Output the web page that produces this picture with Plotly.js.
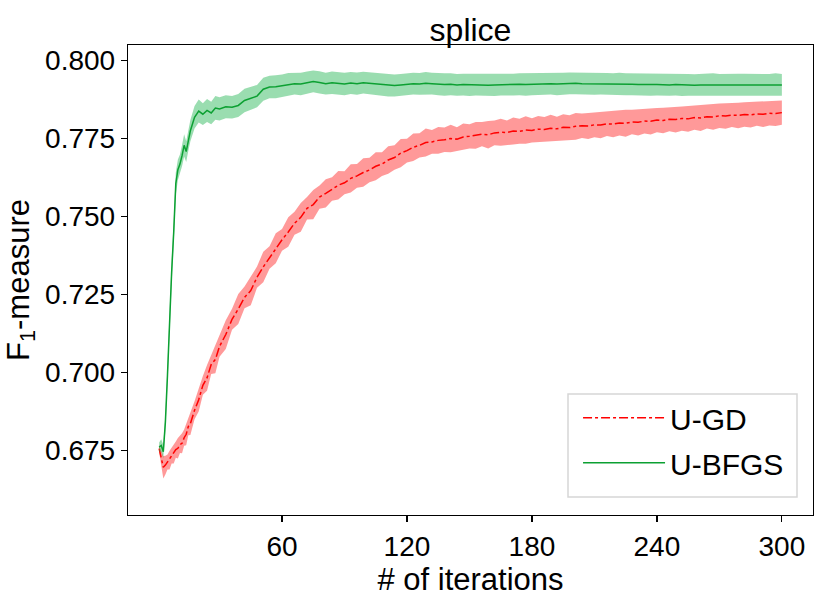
<!DOCTYPE html>
<html>
<head>
<meta charset="utf-8">
<script src="https://cdn.plot.ly/plotly-3.0.1.min.js"></script>
<style>
  html, body { margin: 0; padding: 0; background: #fff; }
  #plot { width: 831px; height: 602px; }
</style>
</head>
<body>
<div id="plot"></div>
<script>
// iterations sampled from the curves
var iterations = [1,2,3,4,5,6,7,8,9,10,11,12,13,14,15,16,
  18,20,22,24,26,28,30,
  33,36,39,42,45,48,51,54,57,60,63,66,69,72,75,78,81,84,87,90,
  93,96,99,102,105,108,111,114,117,120,123,126,129,132,135,138,141,144,147,150,
  153,156,159,162,165,168,171,174,177,180,183,186,189,192,195,198,201,204,207,210,
  213,216,219,222,225,228,231,234,237,240,243,246,249,252,255,258,261,264,267,270,
  273,276,279,282,285,288,291,294,297,300];

// U-GD mean F1 and spread
var gdMean = [0.6755,0.6728,0.6695,0.6702,0.6712,0.6718,0.6732,0.6738,0.6752,0.6756,0.6768,0.6772,0.6790,0.6801,0.6826,0.6835,
  0.6878,0.6912,0.6958,0.6982,0.7025,0.7041,0.7083,
  0.7121,0.7170,0.7203,0.7240,0.7262,0.7305,0.7338,0.7368,0.7398,0.7425,0.7450,0.7478,0.7497,0.7526,0.7538,0.7562,0.7574,0.7588,0.7600,0.7608,
  0.7622,0.7630,0.7641,0.7649,0.7661,0.7668,0.7681,0.7689,0.7703,0.7711,0.7722,0.7728,0.7737,0.7739,0.7744,0.7746,0.7750,0.7748,0.7755,0.7757,
  0.7760,0.7764,0.7762,0.7768,0.7770,0.7769,0.7774,0.7773,0.7777,0.7776,0.7780,0.7779,0.7783,0.7781,0.7786,0.7785,0.7789,0.7791,0.7790,0.7794,
  0.7793,0.7797,0.7796,0.7800,0.7799,0.7803,0.7802,0.7806,0.7805,0.7809,0.7808,0.7812,0.7811,0.7814,0.7813,0.7817,0.7816,0.7820,0.7819,0.7823,
  0.7822,0.7825,0.7824,0.7827,0.7826,0.7829,0.7828,0.7831,0.7830,0.7833];
var gdStd = [0.0012,0.0022,0.0036,0.0030,0.0024,0.0030,0.0025,0.0031,0.0026,0.0033,0.0027,0.0032,0.0026,0.0035,0.0028,0.0036,
  0.0029,0.0038,0.0030,0.0041,0.0031,0.0044,0.0033,
  0.0046,0.0034,0.0048,0.0035,0.0047,0.0034,0.0049,0.0036,0.0048,0.0035,0.0047,0.0037,0.0046,0.0036,0.0047,0.0037,0.0045,0.0038,0.0046,0.0037,
  0.0045,0.0038,0.0046,0.0039,0.0045,0.0038,0.0044,0.0039,0.0045,0.0038,0.0044,0.0039,0.0045,0.0038,0.0043,0.0039,0.0044,0.0038,0.0043,0.0039,
  0.0043,0.0039,0.0044,0.0040,0.0043,0.0039,0.0043,0.0040,0.0044,0.0039,0.0042,0.0040,0.0043,0.0039,0.0042,0.0040,0.0043,0.0039,0.0042,0.0040,
  0.0042,0.0039,0.0042,0.0040,0.0043,0.0039,0.0042,0.0040,0.0042,0.0039,0.0041,0.0039,0.0042,0.0039,0.0041,0.0039,0.0042,0.0038,0.0041,0.0039,
  0.0041,0.0038,0.0041,0.0039,0.0041,0.0038,0.0041,0.0039,0.0040,0.0039];

// U-BFGS mean F1 and spread
var bfgsMean = [0.6760,0.6765,0.6745,0.6840,0.6990,0.7180,0.7320,0.7450,0.7605,0.7650,0.7668,0.7695,0.7728,0.7708,0.7745,0.7775,
  0.7818,0.7838,0.7828,0.7840,0.7832,0.7848,0.7845,
  0.7852,0.7850,0.7856,0.7872,0.7880,0.7886,0.7908,0.7915,0.7916,0.7919,0.7924,0.7926,0.7925,0.7929,0.7933,0.7930,0.7926,0.7929,0.7927,0.7925,
  0.7928,0.7926,0.7929,0.7927,0.7924,0.7922,0.7921,0.7920,0.7922,0.7924,0.7926,0.7925,0.7927,0.7926,0.7924,0.7923,0.7924,0.7922,0.7923,0.7922,
  0.7923,0.7922,0.7921,0.7922,0.7923,0.7922,0.7923,0.7924,0.7923,0.7924,0.7925,0.7926,0.7926,0.7925,0.7926,0.7927,0.7927,0.7926,0.7926,0.7925,
  0.7926,0.7925,0.7924,0.7925,0.7924,0.7924,0.7923,0.7924,0.7923,0.7923,0.7922,0.7922,0.7923,0.7922,0.7922,0.7921,0.7922,0.7922,0.7923,0.7922,
  0.7923,0.7922,0.7923,0.7922,0.7922,0.7923,0.7922,0.7922,0.7923,0.7922];
var bfgsStd = [0.0015,0.0020,0.0022,0.0025,0.0030,0.0035,0.0038,0.0035,0.0036,0.0033,0.0031,0.0034,0.0036,0.0033,0.0035,0.0034,
  0.0036,0.0037,0.0035,0.0037,0.0036,0.0038,0.0037,
  0.0037,0.0036,0.0037,0.0038,0.0037,0.0036,0.0037,0.0036,0.0037,0.0036,0.0036,0.0035,0.0036,0.0036,0.0035,0.0036,0.0035,0.0036,0.0035,0.0036,
  0.0035,0.0036,0.0035,0.0035,0.0036,0.0035,0.0036,0.0035,0.0035,0.0036,0.0035,0.0035,0.0036,0.0035,0.0035,0.0036,0.0035,0.0035,0.0035,0.0036,
  0.0035,0.0035,0.0035,0.0036,0.0035,0.0035,0.0035,0.0035,0.0036,0.0035,0.0035,0.0035,0.0035,0.0036,0.0035,0.0035,0.0035,0.0035,0.0036,0.0035,
  0.0035,0.0035,0.0035,0.0036,0.0035,0.0035,0.0035,0.0035,0.0036,0.0035,0.0035,0.0035,0.0035,0.0036,0.0035,0.0035,0.0035,0.0035,0.0036,0.0035,
  0.0035,0.0035,0.0035,0.0036,0.0035,0.0035,0.0035,0.0035,0.0036,0.0035];

var xTicks = [60, 120, 180, 240, 300];
var yTicks = [0.675, 0.700, 0.725, 0.750, 0.775, 0.800];

var fontFam = 'Liberation Sans, Arial, sans-serif';

function band(mean, sd, color, grp){
  var hi = mean.map(function(v, i){ return v + sd[i]; });
  var lo = mean.map(function(v, i){ return v - sd[i]; });
  return [
    {x: iterations, y: hi, type: 'scatter', mode: 'lines', line: {width: 0}, legendgroup: grp, showlegend: false, hoverinfo: 'skip'},
    {x: iterations, y: lo, type: 'scatter', mode: 'lines', line: {width: 0}, fill: 'tonexty', fillcolor: color, legendgroup: grp, showlegend: false, hoverinfo: 'skip'}
  ];
}

var data = [];
data = data.concat(band(gdMean, gdStd, 'rgba(255,0,0,0.4)', 'gd'));
data.push({
  name: 'U-GD', legendgroup: 'gd', x: iterations, y: gdMean, type: 'scatter', mode: 'lines',
  line: {color: '#ff0000', width: 1.5, dash: 'dashdot'}
});
data = data.concat(band(bfgsMean, bfgsStd, 'rgba(30,180,80,0.45)', 'bfgs'));
data.push({
  name: 'U-BFGS', legendgroup: 'bfgs', x: iterations, y: bfgsMean, type: 'scatter', mode: 'lines',
  line: {color: '#0ca032', width: 1.5}
});

var axisCommon = {
  showline: true, mirror: true, linecolor: '#000', linewidth: 1.2,
  showgrid: false, zeroline: false,
  ticks: 'outside', ticklen: 6, tickwidth: 1.2, tickcolor: '#000',
  tickfont: {family: fontFam, size: 28, color: '#000'}
};

var layout = {
  width: 831, height: 602,
  margin: {l: 128, r: 18, t: 45, b: 87},
  paper_bgcolor: '#fff', plot_bgcolor: '#fff',
  font: {family: fontFam, color: '#000'},
  title: {
    text: 'splice', font: {family: fontFam, size: 32, color: '#000'},
    x: 0.5, xref: 'paper', y: 1 - 30/602, yref: 'container', yanchor: 'middle'
  },
  xaxis: Object.assign({}, axisCommon, {
    range: [-13.95, 314.95], tickmode: 'array', tickvals: xTicks,
    title: {text: '# of iterations', font: {family: fontFam, size: 31}, standoff: 2}
  }),
  yaxis: Object.assign({}, axisCommon, {
    range: [0.6542, 0.8050], tickmode: 'array', tickvals: yTicks, tickformat: '.3f',
    title: {text: 'F<sub>1</sub>-measure', font: {family: fontFam, size: 31}, standoff: 6}
  }),
  // legend frame drawn as a shape so it can match the reference box size
  shapes: [{
    type: 'rect', xref: 'paper', yref: 'paper', layer: 'below',
    x0: (568 - 128) / 685, x1: (797 - 128) / 685,
    y0: (515 - 497) / 470, y1: (515 - 394) / 470,
    line: {color: '#d6d6d6', width: 1.5}, fillcolor: 'rgba(255,255,255,0.8)'
  }],
  showlegend: true,
  legend: {
    x: 0.657, y: 0.262, xanchor: 'left', yanchor: 'top',
    bgcolor: 'rgba(0,0,0,0)', borderwidth: 0,
    font: {family: fontFam, size: 30, color: '#000'},
    traceorder: 'grouped', tracegroupgap: 3, itemwidth: 82
  }
};

Plotly.newPlot('plot', data, layout, {staticPlot: true, displayModeBar: false});
</script>
</body>
</html>
